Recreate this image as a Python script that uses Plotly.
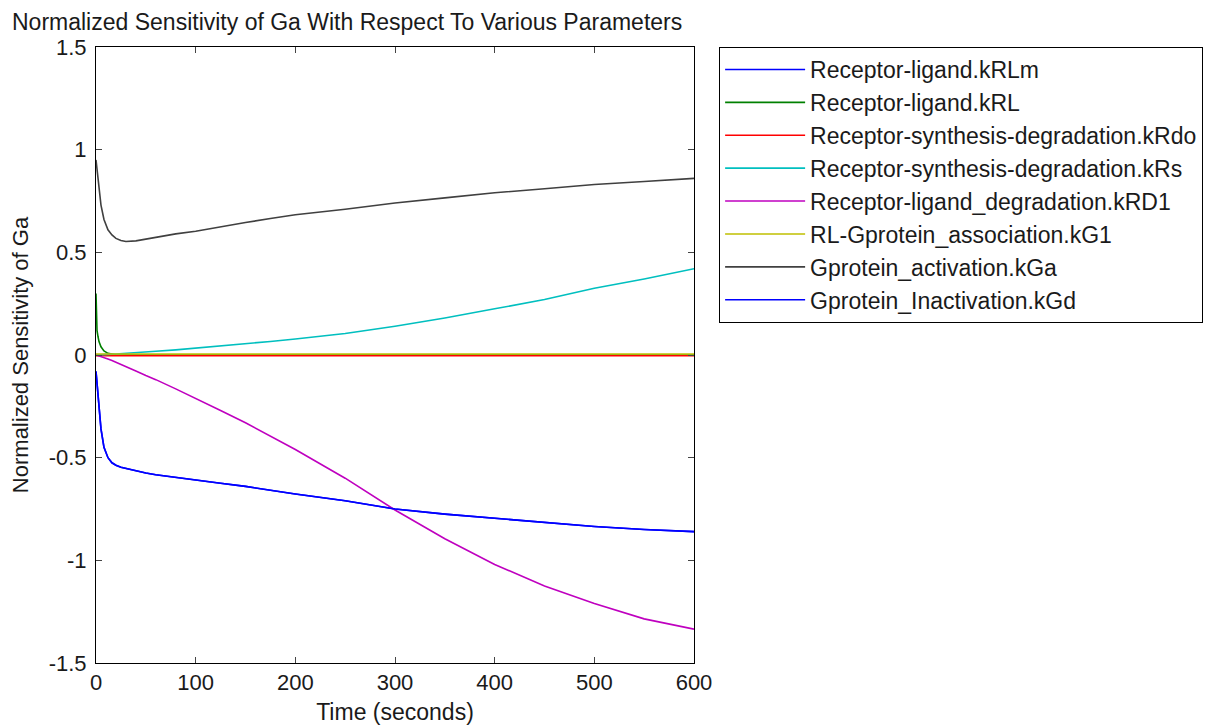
import plotly.graph_objects as go

# time grid (seconds)
time_s = [0, 1, 2, 3, 5, 8, 12, 16, 20, 25, 30, 40, 50, 60, 80, 100, 125, 150, 175, 200,
          250, 300, 350, 400, 450, 500, 550, 600]

# sensitivity values
kRLm = [-0.08, -0.14, -0.20, -0.26, -0.36, -0.45, -0.50, -0.525, -0.537, -0.547, -0.553,
        -0.565, -0.575, -0.583, -0.597, -0.61, -0.625, -0.64, -0.66, -0.677, -0.71, -0.75,
        -0.775, -0.795, -0.815, -0.835, -0.85, -0.86]
kRL = [0.30, 0.12, 0.09, 0.065, 0.04, 0.02, 0.008, 0.003, 0.001] + [0.0] * 19
kRdo = [-0.004] * 28
kRs = [0, 0, 0, 0, 0.001, 0.002, 0.003, 0.004, 0.005, 0.007, 0.009, 0.012, 0.015, 0.018,
       0.025, 0.033, 0.044, 0.055, 0.066, 0.078, 0.105, 0.14, 0.18, 0.225, 0.27, 0.325,
       0.37, 0.42]
kRD1 = [0, -0.002, -0.004, -0.005, -0.008, -0.013, -0.02, -0.027, -0.035, -0.045, -0.055,
        -0.078, -0.10, -0.12, -0.165, -0.21, -0.27, -0.33, -0.395, -0.46, -0.60, -0.755,
        -0.895, -1.02, -1.125, -1.21, -1.285, -1.335]
kG1 = [0.005] * 28
kGa = [0.95, 0.90, 0.85, 0.80, 0.73, 0.66, 0.61, 0.585, 0.568, 0.558, 0.553, 0.556, 0.565,
       0.575, 0.59, 0.603, 0.625, 0.645, 0.665, 0.683, 0.71, 0.74, 0.765, 0.79, 0.81, 0.83,
       0.845, 0.86]
kGd = list(kRLm)

names = ["Receptor-ligand.kRLm", "Receptor-ligand.kRL", "Receptor-synthesis-degradation.kRdo",
         "Receptor-synthesis-degradation.kRs", "Receptor-ligand_degradation.kRD1",
         "RL-Gprotein_association.kG1", "Gprotein_activation.kGa", "Gprotein_Inactivation.kGd"]
series = [kRLm, kRL, kRdo, kRs, kRD1, kG1, kGa, kGd]
colors = ["#0000ff", "#008000", "#ff0000", "#00bfbf", "#bf00bf", "#bfbf00", "#404040", "#0000ff"]

x_ticks = [0, 100, 200, 300, 400, 500, 600]
y_ticks = [-1.5, -1, -0.5, 0, 0.5, 1, 1.5]
y_labels = ["-1.5", "-1", "-0.5", "0", "0.5", "1", "1.5"]

fig = go.Figure()
for name, vals, col in zip(names, series, colors):
    fig.add_trace(go.Scatter(x=time_s, y=vals, mode="lines", name=name,
                             line=dict(color=col, width=1.6)))

# page body has an 8px margin, so the figure is shifted by 8px
font = "Liberation Sans, Arial, sans-serif"
fig.update_layout(
    width=1221, height=728,
    margin=dict(l=88, r=535, t=39, b=73, autoexpand=False),
    paper_bgcolor="white", plot_bgcolor="white",
    font=dict(family=font, size=22, color="#1a1a1a"),
    title=dict(text="Normalized Sensitivity of Ga With Respect To Various Parameters",
               x=4 / 1221, xref="container", xanchor="left",
               y=1 - 14 / 728, yref="container", yanchor="middle",
               font=dict(size=23)),
    legend=dict(x=1.042, y=1, xanchor="left", yanchor="top",
                bordercolor="black", borderwidth=1, bgcolor="white",
                font=dict(size=23), tracegroupgap=0, itemwidth=80),
    showlegend=True,
)
fig.update_xaxes(range=[0, 600], tickvals=x_ticks, ticks="inside", ticklen=6,
                 showline=True, linecolor="black", linewidth=1, mirror="ticks",
                 showgrid=False, zeroline=False, automargin=False,
                 title=dict(text="Time (seconds)", standoff=9, font=dict(size=23)))
fig.update_yaxes(range=[-1.5, 1.5], tickvals=y_ticks, ticktext=y_labels, ticks="inside",
                 ticklen=6, showline=True, linecolor="black", linewidth=1, mirror="ticks",
                 showgrid=False, zeroline=False, automargin=False, ticklabelstandoff=4,
                 title=dict(text="Normalized Sensitivity of Ga", standoff=17,
                            font=dict(size=22)))

fig.write_html("out.html")
